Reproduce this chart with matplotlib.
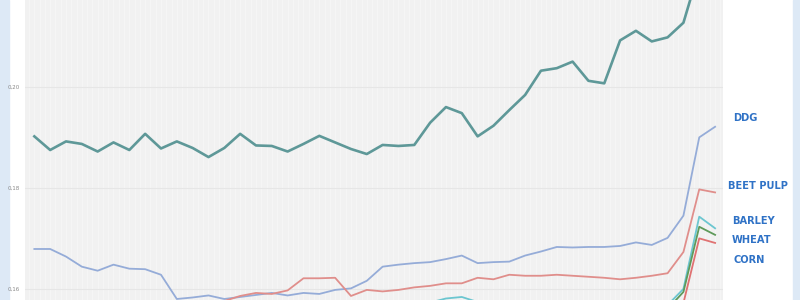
import matplotlib
matplotlib.use('Agg')
from matplotlib import pyplot as plt
from matplotlib.ticker import MultipleLocator, FixedLocator
import numpy as np

# 44 periods, values (below-axis values are rough guesses)
periods = list(range(44))

top_series = [0.1902, 0.1875, 0.1892, 0.1887, 0.1872, 0.1890, 0.1875, 0.1907, 0.1878, 0.1892,
              0.1879, 0.1861, 0.1879, 0.1907, 0.1884, 0.1883, 0.1872, 0.1887, 0.1903, 0.1890,
              0.1877, 0.1867, 0.1885, 0.1883, 0.1885, 0.1929, 0.1960, 0.1948, 0.1902, 0.1923,
              0.1954, 0.1984, 0.2032, 0.2037, 0.2050, 0.2012, 0.2007, 0.2092, 0.2111, 0.2090,
              0.2098, 0.2127, 0.2232, 0.2280]

ddg = [0.1679, 0.1679, 0.1664, 0.1644, 0.1636, 0.1648, 0.1640, 0.1639, 0.1628, 0.1580,
       0.1583, 0.1587, 0.1580, 0.1584, 0.1588, 0.1592, 0.1587, 0.1592, 0.1590, 0.1598,
       0.1601, 0.1616, 0.1644, 0.1648, 0.1651, 0.1653, 0.1659, 0.1666, 0.1651, 0.1653,
       0.1654, 0.1666, 0.1674, 0.1683, 0.1682, 0.1683, 0.1683, 0.1685, 0.1692, 0.1687,
       0.1701, 0.1745, 0.1900, 0.1921]

beet_pulp = [0.1550, 0.1550, 0.1552, 0.1552, 0.1553, 0.1555, 0.1556, 0.1558, 0.1560, 0.1562,
             0.1565, 0.1570, 0.1576, 0.1586, 0.1592, 0.1590, 0.1597, 0.1621, 0.1621, 0.1622,
             0.1586, 0.1598, 0.1595, 0.1598, 0.1603, 0.1606, 0.1611, 0.1611, 0.1622, 0.1619,
             0.1628, 0.1626, 0.1626, 0.1628, 0.1626, 0.1624, 0.1622, 0.1619, 0.1622, 0.1626,
             0.1631, 0.1673, 0.1797, 0.1791]

barley = [0.1560, 0.1560, 0.1562, 0.1562, 0.1563, 0.1563, 0.1565, 0.1565, 0.1566, 0.1566,
          0.1567, 0.1567, 0.1568, 0.1568, 0.1569, 0.1569, 0.1570, 0.1570, 0.1570, 0.1571,
          0.1571, 0.1571, 0.1572, 0.1572, 0.1572, 0.1573, 0.1581, 0.1584, 0.1574, 0.1570,
          0.1568, 0.1568, 0.1567, 0.1567, 0.1566, 0.1566, 0.1566, 0.1566, 0.1567, 0.1567,
          0.1568, 0.1600, 0.1743, 0.1720]

wheat = [0.1540, 0.1540, 0.1541, 0.1541, 0.1542, 0.1542, 0.1543, 0.1543, 0.1544, 0.1544,
         0.1545, 0.1545, 0.1546, 0.1546, 0.1547, 0.1547, 0.1548, 0.1548, 0.1549, 0.1549,
         0.1550, 0.1550, 0.1551, 0.1551, 0.1552, 0.1552, 0.1553, 0.1553, 0.1554, 0.1554,
         0.1555, 0.1555, 0.1556, 0.1556, 0.1557, 0.1557, 0.1558, 0.1558, 0.1559, 0.1559,
         0.1560, 0.1594, 0.1723, 0.1707]

corn = [0.1520, 0.1520, 0.1521, 0.1521, 0.1522, 0.1522, 0.1523, 0.1523, 0.1524, 0.1524,
        0.1525, 0.1525, 0.1526, 0.1526, 0.1527, 0.1527, 0.1528, 0.1528, 0.1529, 0.1529,
        0.1530, 0.1530, 0.1531, 0.1531, 0.1532, 0.1532, 0.1533, 0.1533, 0.1534, 0.1534,
        0.1535, 0.1535, 0.1536, 0.1536, 0.1537, 0.1537, 0.1538, 0.1538, 0.1539, 0.1539,
        0.1540, 0.1572, 0.1700, 0.1691]

y_ticks = [0.16, 0.18, 0.20]
y_labels = ['0,16', '0,18', '0,20']

fig = plt.figure(figsize=(8, 3), dpi=100)
fig.patch.set_facecolor('white')

# light blue strips on both edges of the slide
fig.add_artist(plt.Rectangle((0, 0), 9 / 800, 1, transform=fig.transFigure,
                             color='#dde9f6', zorder=0))
fig.add_artist(plt.Rectangle((793 / 800, 0), 7 / 800, 1, transform=fig.transFigure,
                             color='#dde9f6', zorder=0))

ax = fig.add_axes([25 / 800, 0, 698 / 800, 1])
ax.set_facecolor('#f1f1f1')
for s in ax.spines.values():
    s.set_visible(False)

ax.set_xlim(-0.59, 43.5)
ax.set_ylim(0.1578, 0.2172)

ax.xaxis.set_minor_locator(MultipleLocator(1 / 3))
ax.xaxis.set_major_locator(MultipleLocator(1))
ax.grid(True, axis='x', which='both', color='#f8f8f8', lw=0.5)
ax.yaxis.set_major_locator(FixedLocator(y_ticks))
ax.grid(True, axis='y', which='major', color='#e6e6e6', lw=0.8)
ax.set_axisbelow(True)

ax.set_xticklabels([])
ax.tick_params(axis='x', which='both', length=0)
ax.set_yticks(y_ticks)
ax.set_yticklabels(y_labels, fontsize=4, color='#888888')
ax.tick_params(axis='y', length=0, pad=4)

ax.plot(periods, top_series, color='#5e9898', lw=1.9)
ax.plot(periods, ddg, color='#95acd8', lw=1.3)
ax.plot(periods, beet_pulp, color='#e08e8b', lw=1.3)
ax.plot(periods, barley, color='#6cc6d0', lw=1.3)
ax.plot(periods, wheat, color='#5f9a5a', lw=1.3)
ax.plot(periods, corn, color='#e07272', lw=1.3)

lab_color = '#2f72c6'
labels = [('DDG', 733, 118), ('BEET PULP', 728, 186), ('BARLEY', 732, 221),
          ('WHEAT', 732, 240), ('CORN', 733, 260)]
for txt, px, py in labels:
    fig.text(px / 800, 1 - py / 300, txt, fontsize=7.1, fontweight='bold',
             color=lab_color, ha='left', va='center')

plt.savefig('out.png', dpi=100)
